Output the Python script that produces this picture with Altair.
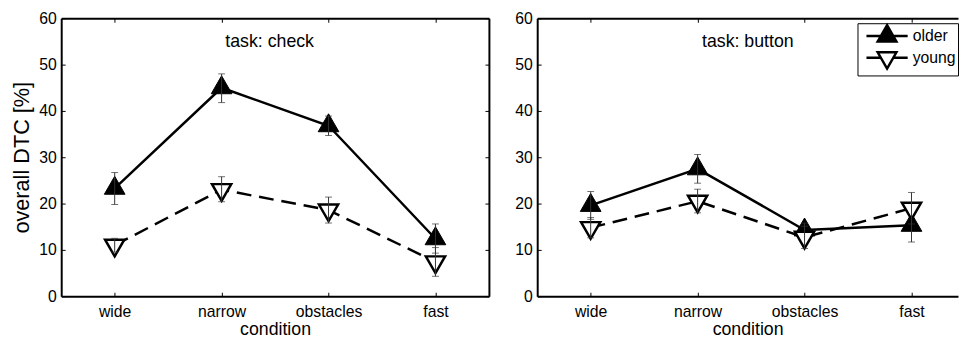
import json
import altair as alt
import pandas as pd

FONT = "Liberation Sans"

conditions = ["wide", "narrow", "obstacles", "fast"]
series_names = ["older", "young"]
task_titles = ["task: check", "task: button"]
y_ticks = [0, 10, 20, 30, 40, 50, 60]

check_older_mean = [23.3, 45.0, 36.8, 12.4]
check_older_lo = [19.8, 41.8, 34.7, 9.3]
check_older_hi = [26.7, 48.0, 38.9, 15.6]
check_young_mean = [11.0, 23.0, 18.6, 7.4]
check_young_lo = [9.5, 20.4, 15.8, 4.3]
check_young_hi = [12.5, 25.8, 21.4, 10.5]

button_older_mean = [19.6, 27.5, 14.3, 15.3]
button_older_lo = [16.6, 24.4, 12.8, 11.7]
button_older_hi = [22.6, 30.6, 15.8, 18.9]
button_young_mean = [14.8, 20.5, 12.7, 19.0]
button_young_lo = [12.6, 18.0, 10.3, 15.6]
button_young_hi = [17.0, 23.1, 15.1, 22.4]

# triangle markers centred on their centroid (as MATLAB draws them)
TRI_UP = "M0,-1.155L1,0.577L-1,0.577Z"
TRI_DOWN = "M0,1.155L1,-0.577L-1,-0.577Z"
LEG_OLDER = "M-2.2,0L2.2,0M0,-1.155L1,0.577L-1,0.577Z"
LEG_YOUNG = "M-2.2,0L-0.667,0M0.667,0L2.2,0M0,1.155L1,-0.577L-1,-0.577Z"


def build(series_data):
    rows = []
    for s, (m, lo, hi) in zip(series_names, series_data):
        for i, c in enumerate(conditions):
            rows.append(dict(series=s, cond=c, pos=i + 1, mean=m[i], lo=lo[i], hi=hi[i]))
    return pd.DataFrame(rows)


df_check = build([(check_older_mean, check_older_lo, check_older_hi),
                  (check_young_mean, check_young_lo, check_young_hi)])
df_button = build([(button_older_mean, button_older_lo, button_older_hi),
                   (button_young_mean, button_young_lo, button_young_hi)])

H = 282
common = dict(labelFont=FONT, labelColor="black", titleFont=FONT, titleColor="black",
              titleFontWeight="normal", tickColor="black", tickWidth=1)
tick_ax = dict(offset=-4, tickSize=4, ticks=True, labels=False, domain=False, grid=False,
               title=None, tickColor="black", tickWidth=1)
grid_ax = dict(grid=True, gridColor="black", gridWidth=2, gridOpacity=1, ticks=False,
               labels=False, domain=False, title=None)


def panel(df, title, width, xmax, is_left, with_legend, title_x):
    xs = alt.Scale(domain=[0.5, xmax], nice=False, zero=False)
    ys = alt.Scale(domain=[0, 60], nice=False, zero=False)
    label_expr = json.dumps([""] + conditions) + "[datum.value]"

    box = alt.Chart(df).mark_point(opacity=0).encode(
        x=alt.X("pos:Q", scale=xs, axis=alt.Axis(values=[0.5, xmax] if is_left else [0.5], **grid_ax)),
        y=alt.Y("mean:Q", scale=ys, axis=alt.Axis(values=[0, 60], **grid_ax)),
    )
    tk = alt.Chart(df).mark_point(opacity=0).encode(
        x=alt.X("pos:Q", scale=xs, axis=alt.Axis(orient="top", values=[1, 2, 3, 4], **tick_ax)),
        y=alt.Y("mean:Q", scale=ys,
                axis=alt.Axis(orient="right", values=y_ticks, **tick_ax) if is_left else None),
    )
    main_x = alt.Axis(orient="bottom", values=[1, 2, 3, 4], offset=-4, tickSize=4, domain=False,
                      grid=False, labelExpr=label_expr, title="condition", labelFontSize=16,
                      labelPadding=8, titleFontSize=18, titlePadding=1, **common)
    main_y = alt.Axis(orient="left", values=y_ticks, offset=-4, tickSize=4, domain=False,
                      grid=False, title="overall DTC [%]" if is_left else None,
                      labelFontSize=16, labelPadding=5, titleFontSize=22, titlePadding=5, **common)

    layers = [box, tk]
    first = True
    for s in series_names:
        d = df[df.series == s]
        xa = main_x if first else None
        ya = main_y if first else None
        first = False
        line_kw = dict(color="black", strokeWidth=2.5)
        if s == "young":
            line_kw["strokeDash"] = [15, 8]
        line = alt.Chart(d).mark_line(**line_kw).encode(
            x=alt.X("pos:Q", scale=xs, axis=xa), y=alt.Y("mean:Q", scale=ys, axis=ya))
        if s == "older":
            pt = alt.Chart(d).mark_point(shape=TRI_UP, size=441, filled=True, fill="black",
                                         stroke="black", strokeWidth=1, opacity=1)
        else:
            pt = alt.Chart(d).mark_point(shape=TRI_DOWN, size=380, filled=True, fill="white",
                                         stroke="black", strokeWidth=2.5, opacity=1)
        pt = pt.encode(x=alt.X("pos:Q", scale=xs, axis=None), y=alt.Y("mean:Q", scale=ys, axis=None))
        rule = alt.Chart(d).mark_rule(color="#333333", strokeWidth=1).encode(
            x=alt.X("pos:Q", scale=xs, axis=None), y=alt.Y("lo:Q", scale=ys, axis=None), y2="hi:Q")
        cap_lo = alt.Chart(d).mark_tick(orient="horizontal", size=7, thickness=1, color="#333333").encode(
            x=alt.X("pos:Q", scale=xs, axis=None), y=alt.Y("lo:Q", scale=ys, axis=None))
        cap_hi = alt.Chart(d).mark_tick(orient="horizontal", size=7, thickness=1, color="#333333").encode(
            x=alt.X("pos:Q", scale=xs, axis=None), y=alt.Y("hi:Q", scale=ys, axis=None))
        layers += [line, pt, rule, cap_lo, cap_hi]

    txt = alt.Chart(pd.DataFrame({"t": [title]})).mark_text(
        font=FONT, fontSize=18, color="black").encode(
        text="t:N", x=alt.value(title_x), y=alt.value(24))
    layers.append(txt)

    if with_legend:
        leg_def = alt.Legend(title=None, orient="none", legendX=325, legendY=5,
                             fillColor="white", strokeColor="black", padding=2,
                             symbolSize=361, symbolStrokeColor="black", symbolStrokeWidth=2.5,
                             symbolOpacity=1, symbolOffset=17, labelFont=FONT, labelFontSize=16,
                             labelColor="black", labelOffset=15, rowPadding=0)
        leg = alt.Chart(df).mark_point(opacity=0, size=361, strokeWidth=2.5).encode(
            x=alt.X("pos:Q", scale=xs, axis=None), y=alt.Y("mean:Q", scale=ys, axis=None),
            shape=alt.Shape("series:N", scale=alt.Scale(domain=series_names, range=[LEG_OLDER, LEG_YOUNG]),
                            legend=leg_def),
            fill=alt.Fill("series:N", scale=alt.Scale(domain=series_names, range=["black", "white"]),
                          legend=leg_def),
            stroke=alt.Stroke("series:N", scale=alt.Scale(domain=series_names, range=["black", "black"]),
                              legend=leg_def),
        )
        layers.append(leg)

    return alt.layer(*layers).resolve_axis(x="independent", y="independent").properties(
        width=width, height=H)


left = panel(df_check, task_titles[0], 434, 4.5, True, False, 211.5)
right = panel(df_button, task_titles[1], 427, 4.435, False, True, 213.7)

chart = alt.hconcat(left, right, spacing=25, padding={"left": 3, "top": 0, "right": 0, "bottom": 0}
                    ).resolve_legend(shape="independent", fill="independent", stroke="independent"
                    ).configure_view(stroke=None)

chart.save("out.html", embed_options={"renderer": "svg", "actions": False})
